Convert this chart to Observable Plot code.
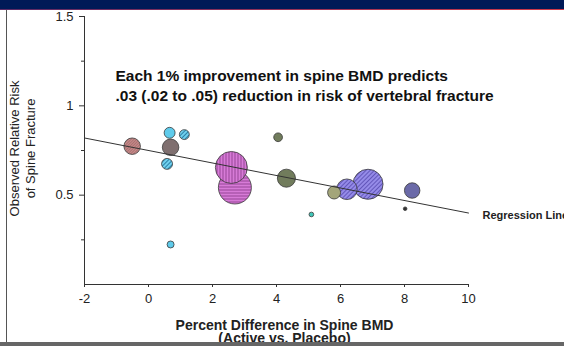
<!DOCTYPE html>
<html>
<head>
<meta charset="utf-8">
<script src="https://cdn.jsdelivr.net/npm/d3@7"></script>
<script src="https://cdn.jsdelivr.net/npm/@observablehq/plot@0.6"></script>
<style>
  html, body { margin: 0; padding: 0; background: #fff; }
  #wrap { position: relative; width: 564px; height: 346px; overflow: hidden; background: #fff; }
  #band { position: absolute; left: 0; top: 0; width: 564px; height: 9px; background: #001a57; }
  #redline { position: absolute; left: 0; top: 9px; width: 564px; height: 1px; background: linear-gradient(90deg, #5a2a66, #d23a48); }
  #leftline { position: absolute; left: 6px; top: 10px; width: 1px; height: 332px; background: #555; }
  #bottombar { position: absolute; left: 0; top: 342px; width: 564px; height: 4px; background: #666; }
</style>
</head>
<body>
<div id="wrap"><div id="chart"></div><div id="band"></div><div id="redline"></div><div id="leftline"></div><div id="bottombar"></div></div>
<script>
// ---- data ----
const studyX      = [-0.51, 0.66, 1.12, 0.69, 0.58, 2.59, 2.70, 0.69, 4.05, 4.31, 5.80, 6.20, 6.86, 8.24, 5.09, 8.02];
const studyY      = [0.774, 0.849, 0.839, 0.768, 0.675, 0.655, 0.543, 0.224, 0.824, 0.595, 0.515, 0.533, 0.561, 0.526, 0.392, 0.424];
const studyWeight = [25, 11, 9, 25, 11, 94, 100, 4.5, 7, 30, 15.5, 39, 83, 22, 2, 1.2];
const studyGroup  = ["A", "B", "C", "D", "C", "E", "F", "B", "G", "G", "H", "I", "I", "J", "K", "L"];

const regX = [-2, 10];
const regY = [0.82, 0.40];

const xTicks = [-2, 0, 2, 4, 6, 8, 10];
const yTicks = [0.5, 1, 1.5];
const yMinorTicks = [0.25, 0.75, 1.25];

const annotation = "Each 1% improvement in spine BMD predicts\n.03 (.02 to .05) reduction in risk of vertebral fracture";
const regressionLabel = "Regression Line";
const xTitle = "Percent Difference in Spine BMD\n(Active vs. Placebo)";
const yTitle = "Observed Relative Risk\nof Spine Fracture";

// ---- styles (group -> fill) ----
const groups = ["A","B","C","D","E","F","G","H","I","J","K","L"];
const groupFills = ["url(#p-rose)", "#5fcbeb", "url(#p-cyan)", "#7f6f6f", "url(#p-magv)", "url(#p-magh)",
                    "#717c5c", "#a3a57a", "url(#p-peri)", "#6b6aa8", "#3fc6b8", "#333333"];

const studies = studyX.map((x, i) => ({x, y: studyY[i], w: studyWeight[i], g: studyGroup[i]}));
const font = "Arial, 'Liberation Sans', Helvetica, sans-serif";

const chart = Plot.plot({
  width: 564, height: 346,
  marginLeft: 84, marginRight: 96, marginTop: 16, marginBottom: 62,
  style: {fontFamily: font, fontSize: "13px", background: "transparent", color: "#222"},
  x: {domain: [-2, 10], axis: null},
  y: {domain: [0, 1.5], axis: null},
  r: {type: "sqrt", domain: [0, 100], range: [0, 16.5]},
  color: {type: "ordinal", domain: groups, range: groupFills},
  marks: [
    Plot.ruleX([-2], {y1: 0, y2: 1.5, stroke: "#333"}),
    Plot.ruleY([0], {x1: -2, x2: 10, stroke: "#333"}),
    Plot.axisX({ticks: xTicks, tickSize: 3, tickPadding: 6, fontSize: 13, tickFormat: d => String(d), stroke: "#333", label: null}),
    Plot.axisY({ticks: yTicks, tickSize: 5, tickPadding: 6, fontSize: 13, tickFormat: d => String(d), stroke: "#333", label: null}),
    Plot.axisY({ticks: yMinorTicks, tickSize: 3, tickFormat: () => "", stroke: "#333", label: null}),
    Plot.dot(studies, {x: "x", y: "y", r: "w", fill: "g", stroke: "#3a3a3a", strokeWidth: 0.8}),
    Plot.line(regX.map((x, i) => ({x, y: regY[i]})), {x: "x", y: "y", stroke: "#333", strokeWidth: 1}),
    Plot.text([regressionLabel], {x: regX[1], y: regY[1], dx: 14, dy: 2, textAnchor: "start", lineAnchor: "middle",
      fontSize: 11, fontWeight: "bold", fill: "#222"}),
    Plot.text([annotation], {frameAnchor: "top-left", dx: 31, dy: 51, textAnchor: "start", lineAnchor: "top",
      lineHeight: 1.25, fontSize: 15.5, fontWeight: "bold", fill: "#111"}),
    Plot.text([xTitle], {frameAnchor: "bottom", dx: 8, dy: 36, lineAnchor: "top", lineHeight: 0.95,
      fontSize: 14, fontWeight: "bold", fill: "#222"}),
    Plot.text([yTitle], {frameAnchor: "left", dx: -63, dy: -2, rotate: -90, textAnchor: "middle", lineAnchor: "middle",
      lineHeight: 1.23, fontSize: 13, fill: "#222"})
  ]
});

// hatch patterns
const defs = d3.select(chart).insert("defs", ":first-child");
function hatch(id, base, stripe, angle, spacing, width) {
  const p = defs.append("pattern").attr("id", id).attr("patternUnits", "userSpaceOnUse")
    .attr("width", spacing).attr("height", spacing).attr("patternTransform", `rotate(${angle})`);
  p.append("rect").attr("width", spacing).attr("height", spacing).attr("fill", base);
  p.append("line").attr("x1", 0.5).attr("y1", 0).attr("x2", 0.5).attr("y2", spacing)
    .attr("stroke", stripe).attr("stroke-width", width);
}
hatch("p-rose", "#c98c8c", "#a06a6a", 45, 2, 0.8);
hatch("p-cyan", "#6fd0ee", "#2a7fa5", 45, 3, 1);
hatch("p-magv", "#d77bd7", "#8e3f8e", 0, 3, 0.9);
hatch("p-magh", "#d77bd7", "#8e3f8e", 90, 3, 0.9);
hatch("p-peri", "#958be8", "#5d51b5", 45, 3, 0.9);

document.getElementById("chart").appendChild(chart);
</script>
</body>
</html>
